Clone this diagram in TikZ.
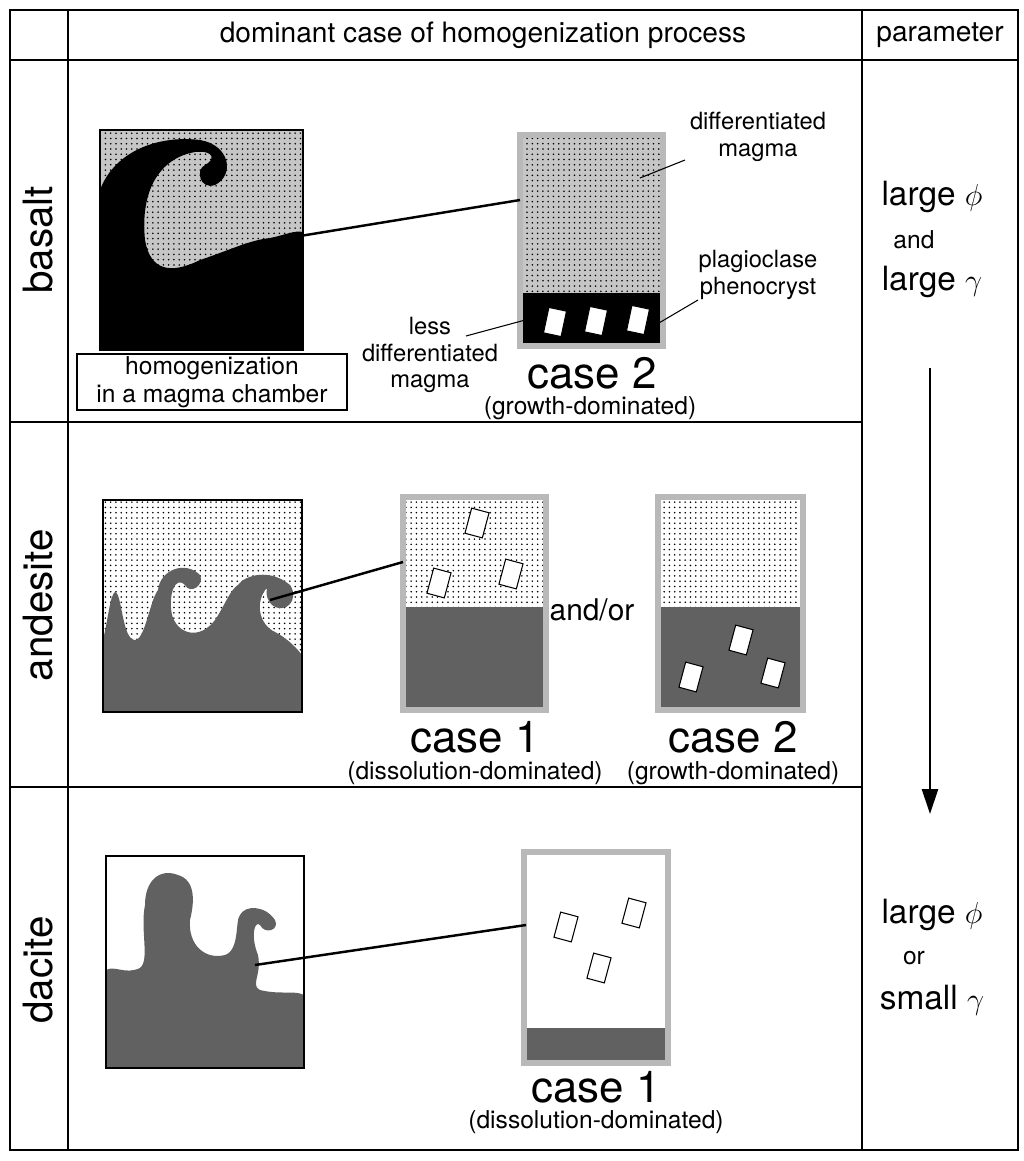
\documentclass[tikz,border=0pt]{standalone}
\usepackage{fontspec}
\setmainfont{TeX Gyre Heros}
\usetikzlibrary{patterns,arrows.meta}

\tikzset{
  panel/.style={line width=1.6pt},
  cbox/.style={draw=gray!55, line width=3pt},
  melt/.style={fill=black!62},
  crystal/.style={draw=black, fill=white, line width=0.6pt, minimum width=3.6mm, minimum height=5.2mm, inner sep=0pt},
  leader/.style={line width=1.4pt},
  thinlead/.style={line width=0.6pt},
  stip/.style={pattern=dots},
  casetxt/.style={font=\fontsize{25}{25}\selectfont},
  subtxt/.style={font=\fontsize{14}{14}\selectfont},
  lbl/.style={font=\fontsize{13.5}{15}\selectfont, align=center},
  rowtxt/.style={font=\fontsize{23}{23}\selectfont, rotate=90},
  partxt/.style={font=\fontsize{19}{19}\selectfont},
}

\begin{document}
\begin{tikzpicture}[x=0.02cm, y=-0.02cm]
  \useasboundingbox (0,0) rectangle (1024,1161);
  % table
  \draw[line width=1.1pt] (10,10) rectangle (1018,1150);
  \draw[line width=1.1pt] (68,10) -- (68,1150) (862,10) -- (862,1150) (10,60) -- (1018,60)
    (10,422) -- (862,422) (10,787) -- (862,787);
  \node[font=\fontsize{16}{16}\selectfont] (head) at (483,35) {dominant case of homogenization process};
  \node[font=\fontsize{16}{16}\selectfont] (par) at (940,35) {parameter};
  \node[rowtxt] (basalt) at (38,240) {basalt};
  \node[rowtxt] (andesite) at (38,605) {andesite};
  \node[rowtxt] (dacite) at (38,970) {dacite};

  % basalt chamber
  \fill[gray!45] (100,130) rectangle (303,350);
  \fill[stip] (100,130) rectangle (303,350);
  \fill[black] (100,350) -- (100,190) .. controls (115,150) and (160,135) .. (200,140)
    .. controls (230,145) and (235,175) .. (215,185) .. controls (200,190) and (195,170) .. (205,165)
    .. controls (215,160) and (215,150) .. (195,152) .. controls (160,158) and (140,190) .. (145,240)
    .. controls (150,270) and (170,275) .. (200,260) .. controls (230,250) and (250,240) .. (270,238)
    .. controls (285,235) and (295,230) .. (303,232) -- (303,350) -- cycle;
  \fill[gray!45] (165,235) .. controls (170,215) and (185,212) .. (190,225)
    .. controls (195,240) and (215,250) .. (230,245) .. controls (210,262) and (170,265) .. cycle;
  \fill[stip] (165,235) .. controls (170,215) and (185,212) .. (190,225)
    .. controls (195,240) and (215,250) .. (230,245) .. controls (210,262) and (170,265) .. cycle;
  \draw[panel] (100,130) rectangle (303,350);
  \node[draw, fill=white, line width=0.8pt, minimum width=270*0.2mm, minimum height=56*0.2mm, align=center,
    font=\fontsize{14}{16}\selectfont, inner sep=1pt] (hbox) at (212,382)
    {homogenization\\in a magma chamber};
  \coordinate (bsrc) at (245,245);

  % basalt case 2
  \fill[gray!45] (520,135) rectangle (663,293);
  \fill[stip] (520,135) rectangle (663,293);
  \fill[black] (520,293) rectangle (663,346);
  \draw[cbox] (520,135) rectangle (663,346);
  \node[crystal, rotate=-12] (bx1) at (555,322) {};
  \node[crystal, rotate=-12] (bx2) at (596,321) {};
  \node[crystal, rotate=-12] (bx3) at (638,320) {};
  \coordinate (bdst) at (520,200);
  \draw[leader] (bsrc) -- (bdst);
  \node[casetxt] (bcase) at (592,373) {case 2};
  \node[subtxt] (bsub) at (590,408) {(growth-dominated)};
  \node[lbl] (dmag) at (758,137) {differentiated\\magma};
  \coordinate (dmagend) at (640,178);
  \draw[thinlead] (685,160) -- (dmagend);
  \node[lbl] (plag) at (758,275) {plagioclase\\phenocryst};
  \coordinate (plagend) at (647,330);
  \draw[thinlead] (698,300) -- (plagend);
  \node[lbl] (lmag) at (430,355) {less\\differentiated\\magma};
  \coordinate (lmagend) at (540,316);
  \draw[thinlead] (466,336) -- (lmagend);

  % andesite chamber
  \fill[stip] (103,500) rectangle (302,712);
  \fill[melt] (103,712) -- (103,640) .. controls (108,620) and (110,595) .. (115,592)
    .. controls (122,592) and (122,640) .. (135,640) .. controls (145,640) and (150,600) .. (158,590)
    .. controls (160,570) and (185,560) .. (200,575) .. controls (205,585) and (190,595) .. (185,585)
    .. controls (175,575) and (168,595) .. (172,615) .. controls (178,635) and (200,640) .. (215,620)
    .. controls (225,605) and (230,590) .. (238,585) .. controls (245,575) and (270,568) .. (290,585)
    .. controls (300,600) and (285,615) .. (272,605) .. controls (262,595) and (270,585) .. (265,590)
    .. controls (255,605) and (260,625) .. (275,632) .. controls (290,640) and (298,650) .. (302,655)
    -- (302,712) -- cycle;
  \draw[panel] (103,500) rectangle (302,712);
  \coordinate (asrc) at (270,600);

  % andesite case 1
  \fill[stip] (403,497) rectangle (546,607);
  \fill[melt] (403,607) rectangle (546,710);
  \draw[cbox] (403,497) rectangle (546,710);
  \node[crystal, rotate=-15] (ax1) at (477,523) {};
  \node[crystal, rotate=-15] (ax2) at (439,583) {};
  \node[crystal, rotate=-15] (ax3) at (511,574) {};
  \coordinate (adst) at (403,562);
  \draw[leader] (asrc) -- (adst);
  \node[casetxt] (acase1) at (475,737) {case 1};
  \node[subtxt] (asub1) at (475,773) {(dissolution-dominated)};
  \node[font=\fontsize{17}{17}\selectfont] (andor) at (592,610) {and/or};

  % andesite case 2
  \fill[stip] (658,497) rectangle (803,607);
  \fill[melt] (658,607) rectangle (803,710);
  \draw[cbox] (658,497) rectangle (803,710);
  \node[crystal, rotate=-15] (ay1) at (741,640) {};
  \node[crystal, rotate=-15] (ay2) at (691,677) {};
  \node[crystal, rotate=-15] (ay3) at (773,673) {};
  \node[casetxt] (acase2) at (733,737) {case 2};
  \node[subtxt] (asub2) at (733,773) {(growth-dominated)};

  % dacite chamber
  \fill[melt] (106,1068) -- (106,970) .. controls (115,965) and (125,975) .. (140,968)
    .. controls (150,960) and (140,930) .. (145,905) .. controls (145,880) and (160,868) .. (178,875)
    .. controls (195,880) and (195,900) .. (190,920) .. controls (188,945) and (205,960) .. (225,955)
    .. controls (240,950) and (235,920) .. (240,915) .. controls (245,905) and (265,905) .. (275,920)
    .. controls (280,930) and (265,935) .. (260,925) .. controls (255,920) and (250,935) .. (258,955)
    .. controls (262,975) and (250,985) .. (260,990) .. controls (280,995) and (295,990) .. (304,995)
    -- (304,1068) -- cycle;
  \draw[panel] (106,856) rectangle (304,1068);
  \coordinate (dsrc) at (255,965);

  % dacite case 1
  \fill[melt] (524,1028) rectangle (668,1063);
  \draw[cbox] (524,852) rectangle (668,1063);
  \node[crystal, rotate=-15] (dx1) at (566,927) {};
  \node[crystal, rotate=-15] (dx2) at (634,913) {};
  \node[crystal, rotate=-15] (dx3) at (599,968) {};
  \coordinate (ddst) at (526,925);
  \draw[leader] (dsrc) -- (ddst);
  \node[casetxt] (dcase) at (596,1087) {case 1};
  \node[subtxt] (dsub) at (596,1122) {(dissolution-dominated)};

  % parameter column
  \node[partxt] (p1) at (932,197) {large $\phi$};
  \node[font=\fontsize{14}{14}\selectfont] (p2) at (914,240) {and};
  \node[partxt] (p3) at (932,282) {large $\gamma$};
  \coordinate (atop) at (930,368);
  \coordinate (abot) at (930,814);
  \draw[line width=1.5pt, -{Triangle[length=5mm,width=3.2mm]}] (atop) -- (abot);
  \node[partxt] (q1) at (932,915) {large $\phi$};
  \node[font=\fontsize{14}{14}\selectfont] (q2) at (914,958) {or};
  \node[partxt] (q3) at (932,1000) {small $\gamma$};
\end{tikzpicture}
\end{document}
